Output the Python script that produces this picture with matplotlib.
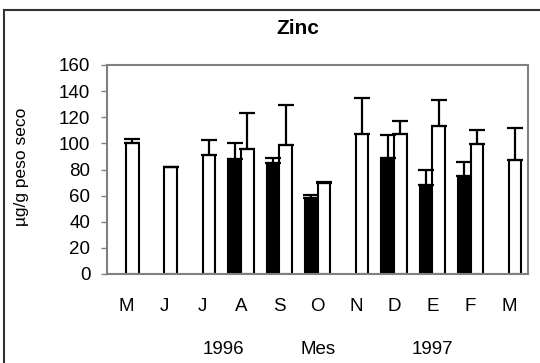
import matplotlib
matplotlib.use('Agg')
import matplotlib.pyplot as plt
import numpy as np

plt.rcParams['font.family'] = ['Liberation Sans', 'DejaVu Sans']

# Dati (µg/g peso seco)
meses = ['M', 'J', 'J', 'A', 'S', 'O', 'N', 'D', 'E', 'F', 'M']
negro = [np.nan, np.nan, np.nan, 88, 85, 58, np.nan, 89, 68, 75, np.nan]
negro_err = [0, 0, 0, 12, 3.5, 2.5, 0, 17.5, 12, 10.5, 0]
blanco = [100, 82, 91, 95.5, 99, 70, 107.5, 107, 113.5, 99.5, 87]
blanco_err = [3, 0, 11.5, 27.5, 30, 0.3, 27, 10, 19.5, 11, 24.5]
anios = ['1996', 'Mes', '1997']

W, H = 540, 363
fig = plt.figure(figsize=(W / 100, H / 100), dpi=100)
ax = fig.add_axes([107 / W, 1 - 274 / H, (528 - 107) / W, (274 - 65) / H])

x = np.arange(len(meses))
w = 0.33
neg = np.array(negro, dtype=float)
ok = ~np.isnan(neg)

ax.bar(x[ok] - w / 2, neg[ok], w, color='black', edgecolor='black', linewidth=1.5, zorder=2)
ax.bar(x + w / 2, blanco, w, color='white', edgecolor='black', linewidth=1.5, zorder=2)

ne = np.array(negro_err)[ok]
ax.errorbar(x[ok] - w / 2, neg[ok], yerr=[np.zeros_like(ne), ne], fmt='none',
            ecolor='black', elinewidth=1.6, capsize=5.5, capthick=1.6, zorder=3)
be = np.array(blanco_err)
ax.errorbar(x + w / 2, blanco, yerr=[np.zeros_like(be), be], fmt='none',
            ecolor='black', elinewidth=1.6, capsize=5.5, capthick=1.6, zorder=3)

ax.set_xlim(-0.5, len(meses) - 0.5)
ax.set_ylim(0, 160)
ax.set_yticks(np.arange(0, 161, 20))
ax.set_xticks(x)
ax.set_xticklabels(meses)
ax.tick_params(axis='y', labelsize=13.5, length=4, width=1, color='#808080', pad=8)
ax.tick_params(axis='x', labelsize=13.5, length=0, pad=17)
for s in ax.spines.values():
    s.set_color('#808080')
    s.set_linewidth(1.5)

fig.text(298 / W, 1 - 29 / H, 'Zinc', fontsize=15, fontweight='bold', ha='center', va='center')
fig.text(22 / W, 1 - 167 / H, 'µg/g peso seco', fontsize=12.5, rotation=90, ha='center', va='center')
for t, px in zip(anios, [223, 318, 432]):
    fig.text(px / W, 1 - 350 / H, t, fontsize=13.5, ha='center', va='center')

# marco exterior
fig.add_artist(plt.Line2D([3.7 / W, 3.7 / W], [0, 1 - 10 / H], color='#333333', lw=1.5))
fig.add_artist(plt.Line2D([3.7 / W, 1], [1 - 10 / H, 1 - 10 / H], color='#333333', lw=1.5))

fig.savefig('out.png', dpi=100)
